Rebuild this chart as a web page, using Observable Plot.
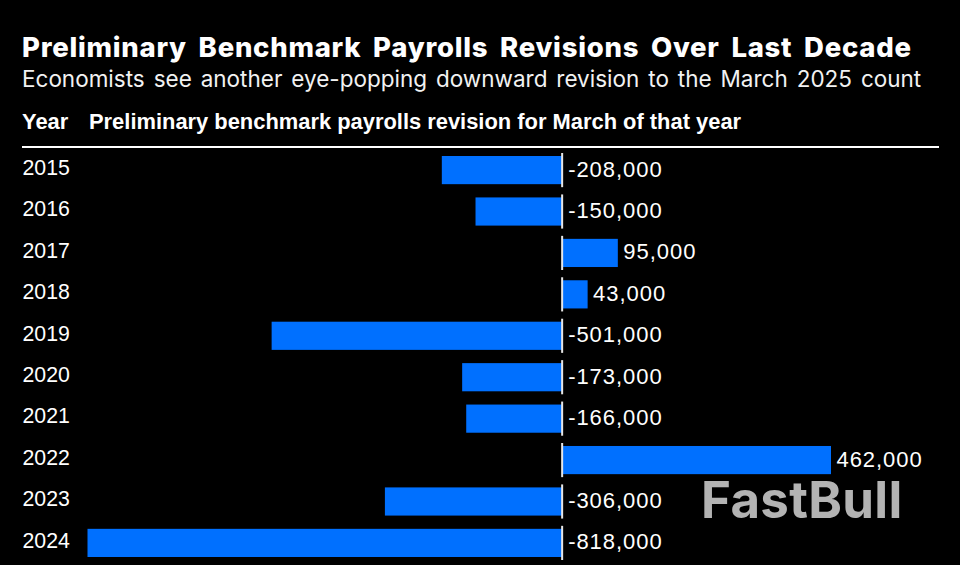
<!DOCTYPE html>
<html>
<head>
<meta charset="utf-8">
<script src="https://cdn.jsdelivr.net/npm/d3@7"></script>
<script src="https://cdn.jsdelivr.net/npm/@observablehq/plot@0.6"></script>
<style>
html,body{margin:0;padding:0;background:#000;width:960px;height:565px;overflow:hidden}
#wrap{position:relative;width:960px;height:565px;background:#000;color:#fff;font-family:"Liberation Sans",sans-serif}
#title{position:absolute;left:22px;top:31px;font:800 27.5px/32px "Inter";white-space:nowrap;letter-spacing:.74px;word-spacing:5px}
#subtitle{position:absolute;left:22px;top:64px;font:400 22.5px/30px "Inter";white-space:nowrap;word-spacing:2.6px;color:#f2f2f2}
#head1,#head2{position:absolute;top:109px;font:700 21.9px/26px "Liberation Sans";white-space:nowrap}
#head1{left:22px}#head2{left:89px}
#rule{position:absolute;left:22px;top:146px;width:917px;height:3px;background:#fff}
#chart{position:absolute;left:0;top:148px}
#mark{position:absolute;left:701px;top:482px;font:700 51px/36px "Inter";color:#b3b3b3;letter-spacing:.3px}
.vals text{letter-spacing:.95px}
</style>
</head>
<body>
<div id="wrap">
<div id="title"></div><div id="subtitle"></div>
<div id="head1"></div><div id="head2"></div>
<div id="rule"></div>
<div id="chart"></div>
<div id="mark">FastBull</div>
</div>
<script>
const titleText = "Preliminary Benchmark Payrolls Revisions Over Last Decade";
const subtitleText = "Economists see another eye-popping downward revision to the March 2025 count";
const yearHeader = "Year";
const valueHeader = "Preliminary benchmark payrolls revision for March of that year";
const years = ["2015","2016","2017","2018","2019","2020","2021","2022","2023","2024"];
const revisions = [-208000,-150000,95000,43000,-501000,-173000,-166000,462000,-306000,-818000];

document.getElementById("title").textContent = titleText;
document.getElementById("subtitle").textContent = subtitleText;
document.getElementById("head1").textContent = yearHeader;
document.getElementById("head2").textContent = valueHeader;

const rows = years.map((year,i)=>({year,value:revisions[i]}));
const fmt = d3.format(",");
const labelText = v => fmt(v).replace("\u2212","-");
const labelFont = {fontFamily:"Liberation Sans",fontSize:22,fill:"#fff"};

const chart = Plot.plot({
  width:960,height:417,
  marginLeft:22,marginRight:0,marginTop:8,marginBottom:8,
  style:{background:"#000",color:"#fff"},
  x:{domain:[-818000,462000],range:[87.5,831],axis:null},
  y:{domain:years,paddingInner:0.32,paddingOuter:0,round:false,label:null},
  marks:[
    Plot.axisY({anchor:"left",tickSize:0,tickPadding:0,textAnchor:"start",dy:-2.5,label:null,fontFamily:"Liberation Sans",fontSize:21.3,color:"#fff"}),
    Plot.barX(rows,{x1:0,x2:"value",y:"year",fill:"#0070ff"}),
    Plot.tickX(rows,{x:()=>0,y:"year",dx:-1,stroke:"#e6e6e6",strokeWidth:2,insetTop:-3,insetBottom:-3}),
    Plot.text(rows,{x:d=>Math.max(d.value,0),y:"year",text:d=>labelText(d.value),textAnchor:"start",dx:5,dy:-1,className:"vals",...labelFont})
  ]
});
document.getElementById("chart").appendChild(chart);
</script>
</body>
</html>
